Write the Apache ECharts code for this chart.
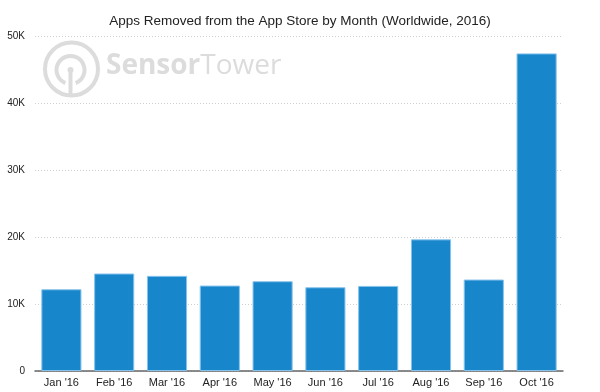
<!DOCTYPE html>
<html>
<head>
<meta charset="utf-8">
<script src="https://cdn.jsdelivr.net/npm/echarts@6/dist/echarts.min.js"></script>
<style>html,body{margin:0;padding:0;background:#fff;}#c{width:600px;height:392px;}</style>
</head>
<body>
<div id="c"></div>
<script>
const categories = ["Jan '16","Feb '16","Mar '16","Apr '16","May '16","Jun '16","Jul '16","Aug '16","Sep '16","Oct '16"];
const removedApps = [12200, 14550, 14200, 12750, 13400, 12500, 12700, 19650, 13650, 47400];
const yTicks = [0, 10000, 20000, 30000, 40000, 50000];
const titleText = "Apps Removed from the App Store by Month (Worldwide, 2016)";

const chart = echarts.init(document.getElementById('c'));
const wm = '#dcdcdc';
chart.setOption({
  animation: false,
  backgroundColor: '#fff',
  title: {
    text: titleText, left: 'center', top: 9,
    textStyle: {fontFamily: 'Liberation Sans, Arial, sans-serif', fontSize: 13.5, fontWeight: 'normal', color: '#222'}
  },
  graphic: [
    {type: 'circle', z: 0, shape: {cx: 71.5, cy: 69, r: 26.5}, style: {fill: 'none', stroke: wm, lineWidth: 4}},
    {type: 'arc', z: 0, shape: {cx: 70.5, cy: 70, r: 14, startAngle: Math.PI*0.62, endAngle: Math.PI*2.38, clockwise: true}, style: {fill: 'none', stroke: wm, lineWidth: 4}},
    {type: 'circle', z: 0, shape: {cx: 70.5, cy: 70, r: 3}, style: {fill: wm}},
    {type: 'line', z: 0, shape: {x1: 70.5, y1: 70, x2: 70.5, y2: 95}, style: {stroke: wm, lineWidth: 4}},
    {type: 'text', z: 0, left: 106, top: 52, style: {
      text: '{b|Sensor}{r|Tower}',
      rich: {
        b: {fontFamily: 'Open Sans, sans-serif', fontWeight: 'bold', fontSize: 28, fill: wm},
        r: {fontFamily: 'Open Sans, sans-serif', fontWeight: 'normal', fontSize: 28, fill: wm}
      }
    }}
  ],
  grid: {left: 35, right: 37, top: 36, bottom: 21, containLabel: false},
  xAxis: {
    type: 'category', data: categories,
    axisLine: {lineStyle: {color: '#666', width: 1.5}},
    axisTick: {show: false},
    axisLabel: {fontFamily: 'Liberation Sans, Arial, sans-serif', fontSize: 11, color: '#222', margin: 6}
  },
  yAxis: {
    type: 'value', min: yTicks[0], max: yTicks[yTicks.length-1], interval: 10000,
    axisLine: {show: false}, axisTick: {show: false},
    axisLabel: {fontFamily: 'Liberation Sans, Arial, sans-serif', fontSize: 10, color: '#222', margin: 10,
      formatter: v => v === 0 ? '0' : (v/1000) + 'K'},
    splitLine: {lineStyle: {color: '#cfcfcf', type: [1, 2], width: 1}}
  },
  series: [{
    type: 'bar', data: removedApps, barCategoryGap: '24%', z: 2,
    itemStyle: {color: '#1886cb', borderColor: '#86c3ec', borderWidth: 1}
  }]
});
</script>
</body>
</html>
